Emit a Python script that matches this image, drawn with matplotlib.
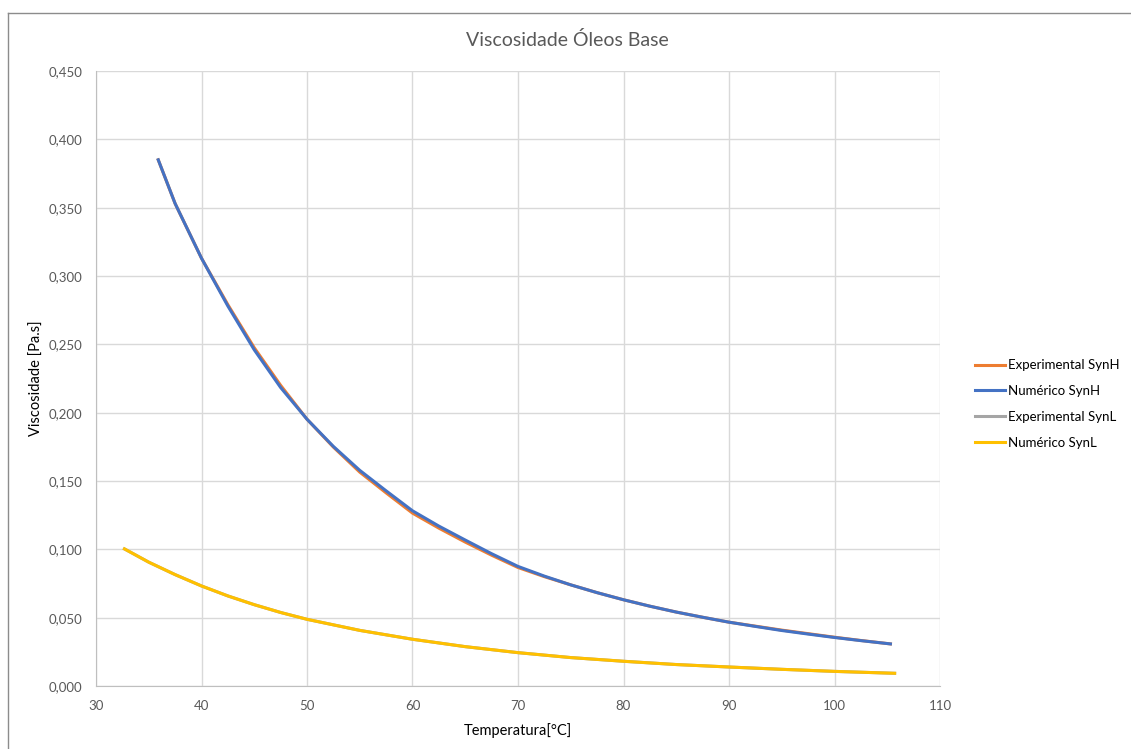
import matplotlib
matplotlib.use("Agg")
import matplotlib.pyplot as plt
from matplotlib.lines import Line2D
from matplotlib.ticker import FuncFormatter, MultipleLocator

# SynH data
temp_h = [35.9, 37.5, 40, 42.5, 45, 47.5, 50, 52.5, 55, 57.5, 60, 62.5, 65, 67.5,
          70, 72.5, 75, 77.5, 80, 82.5, 85, 87.5, 90, 92.5, 95, 97.5, 100, 102.5, 105.3]
exp_h = [0.385, 0.353, 0.313, 0.279, 0.2475, 0.220, 0.1952, 0.1748, 0.1565, 0.1413,
         0.1265, 0.1155, 0.1053, 0.0957, 0.0867, 0.0800, 0.0740, 0.0683, 0.0631,
         0.0584, 0.0541, 0.0503, 0.0467, 0.0438, 0.0409, 0.0383, 0.0357, 0.0333, 0.0308]
num_h = [0.385, 0.353, 0.313, 0.278, 0.2460, 0.2184, 0.1952, 0.1753, 0.1578, 0.1428,
         0.1282, 0.1170, 0.1068, 0.0968, 0.0875, 0.0804, 0.0740, 0.0683, 0.0631,
         0.0584, 0.0541, 0.0503, 0.0467, 0.0436, 0.0406, 0.0380, 0.0355, 0.0332, 0.0308]

# SynL data
temp_l = [32.7, 35, 37.5, 40, 42.5, 45, 47.5, 50, 55, 60, 65, 70, 75, 80, 85, 90,
          95, 100, 105.7]
exp_l = [0.1003, 0.0906, 0.0815, 0.0732, 0.0659, 0.0595, 0.0538, 0.0488, 0.0407,
         0.0342, 0.0288, 0.0244, 0.0208, 0.0181, 0.0157, 0.0139, 0.0122, 0.0107, 0.0093]
num_l = [0.1003, 0.0906, 0.0815, 0.0732, 0.0659, 0.0595, 0.0538, 0.0488, 0.0407,
         0.0342, 0.0288, 0.0244, 0.0208, 0.0181, 0.0157, 0.0139, 0.0122, 0.0107, 0.0093]

labels = ["Experimental SynH", "Numérico SynH", "Experimental SynL", "Numérico SynL"]
colors = ["#ED7D31", "#4472C4", "#A5A5A5", "#FFC000"]

plt.rcParams['font.family'] = ['Lato', 'DejaVu Sans']

fig = plt.figure(figsize=(11.31, 7.49), dpi=100)
ax = fig.add_axes([96 / 1131, 1 - 686 / 749, (940 - 96) / 1131, (686 - 71) / 749])

series = [(temp_h, exp_h), (temp_h, num_h), (temp_l, exp_l), (temp_l, num_l)]
for (x, y), c, lab in zip(series, colors, labels):
    ax.plot(x, y, color=c, lw=2.2, label=lab, solid_joinstyle='round')

ax.set_xlim(30, 110)
ax.set_ylim(0, 0.45)
ax.xaxis.set_major_locator(MultipleLocator(10))
ax.yaxis.set_major_locator(MultipleLocator(0.05))
ax.yaxis.set_major_formatter(FuncFormatter(lambda v, p: f"{v:.3f}".replace(".", ",")))
ax.grid(True, color="#D9D9D9", lw=1)
ax.set_axisbelow(True)
for s in ["top", "right"]:
    ax.spines[s].set_visible(False)
for s in ["left", "bottom"]:
    ax.spines[s].set_color("#BFBFBF")
ax.tick_params(length=0, colors="#595959", labelsize=9.5, pad=10)

ax.set_xlabel("Temperatura[°C]", fontsize=10.5, color="#000000", labelpad=8)
ax.set_ylabel("Viscosidade [Pa.s]", fontsize=10.5, color="#000000", labelpad=3)
fig.text(0.5015, 1 - 40 / 749, "Viscosidade Óleos Base", ha="center", va="center",
         fontsize=14, color="#595959")

handles = [Line2D([], [], color=c, lw=2.2) for c in colors]
fig.legend(handles, labels, loc="center left", bbox_to_anchor=(963 / 1131, 1 - 404 / 749),
           frameon=False, fontsize=9.5, handlelength=2.3, handletextpad=0.2,
           labelspacing=1.05)

# chart border
fig.add_artist(Line2D([8 / 1131, 8 / 1131], [0, 1 - 13 / 749], color="#8C8C8C", lw=1,
                      transform=fig.transFigure))
fig.add_artist(Line2D([8 / 1131, 1130 / 1131], [1 - 13 / 749, 1 - 13 / 749],
                      color="#8C8C8C", lw=1, transform=fig.transFigure))

fig.savefig("out.png", dpi=100)
